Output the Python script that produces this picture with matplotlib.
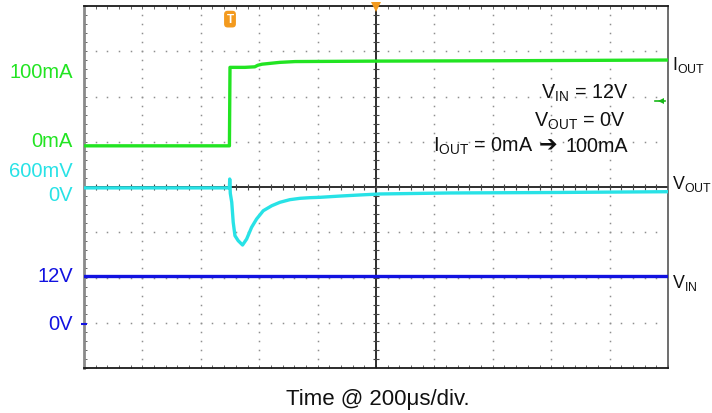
import numpy as np
import matplotlib
matplotlib.use('Agg')
import matplotlib.pyplot as plt
from matplotlib.ticker import MultipleLocator

plt.rcParams['font.family'] = ['Liberation Sans', 'DejaVu Sans']
plt.rcParams['mathtext.fontset'] = 'custom'
plt.rcParams['mathtext.rm'] = 'Liberation Sans'
plt.rcParams['mathtext.it'] = 'Liberation Sans'

# ---------------- data (read from the scope capture) ----------------
time_per_div_us = 200
n_hdiv = 10
n_vdiv = 8

iout_t_us = [-1000, -502, -500, -449, -415, -405, -390, -330, -277, 0, 425, 1000]
iout_mA = [0, 0, 86.7, 86.7, 87.3, 89.0, 90.2, 92.2, 93.1, 93.6, 94.0, 94.8]

vout_t_us = [-1000, -502, -501, -499, -494, -489, -483, -472, -457, -443, -426,
             -409, -386, -357, -329, -295, -260, -226, -192, -123, -55, 14,
             253, 596, 1000]
vout_mV = [0, 0, 98, -60, -159, -380, -528, -583, -631, -565, -435,
           -344, -252, -197, -159, -130, -115, -108, -104, -90, -78, -67,
           -56, -51, -42]

vin_t_us = [-1000, 1000]
vin_V = [12, 12]

trigger_time_us = -500
trigger_level_mA = 50

# channel settings (scale per division, zero position in divisions)
IOUT_SCALE, IOUT_POS = 50.0, 0.91
VOUT_SCALE, VOUT_POS = 500.0, -0.02
VIN_SCALE, VIN_POS = 11.5, -3.02

GREEN = '#22e422'
CYAN = '#28e2e6'
BLUE = '#1212e0'
ORANGE = '#f39a1e'

W, H = 712, 414
fig = plt.figure(figsize=(W / 100, H / 100), dpi=100)
L, R, T, B = 84, 668, 7, 369
ax = fig.add_axes([L / W, 1 - B / H, (R - L) / W, (B - T) / H])
half_t = time_per_div_us * n_hdiv / 2
ax.set_xlim(-half_t, half_t)
ax.set_ylim(-n_vdiv / 2, n_vdiv / 2)

# dotted graticule
sub_t = time_per_div_us / 5
dot_x, dot_y = [], []
for k in range(1, n_hdiv):
    xk = -half_t + k * time_per_div_us
    if abs(xk) < 1e-9:
        continue
    for j in range(1, n_vdiv * 5):
        dot_x.append(xk)
        dot_y.append(-n_vdiv / 2 + 0.2 * j)
for k in range(1, n_vdiv):
    yk = -n_vdiv / 2 + k
    if abs(yk) < 1e-9:
        continue
    for j in range(1, n_hdiv * 5):
        dot_x.append(-half_t + j * sub_t)
        dot_y.append(yk)
ax.plot(dot_x, dot_y, ls='none', marker='s', ms=1.1, mew=0, color='#8f8f8f', zorder=1)

# centre cross with sub-division ticks
ax.axvline(0, color='#1e1e1e', lw=1.3, zorder=2)
ax.axhline(0, color='#1e1e1e', lw=1.3, zorder=2)
cy = [-n_vdiv / 2 + 0.2 * j for j in range(1, n_vdiv * 5)]
ax.plot([0] * len(cy), cy, ls='none', marker='_', ms=4.5, mew=0.8, color='#444444', zorder=2)
cx = [-half_t + j * sub_t for j in range(1, n_hdiv * 5)]
ax.plot(cx, [0] * len(cx), ls='none', marker='|', ms=4.5, mew=0.8, color='#444444', zorder=2)

# border ticks
ax.xaxis.set_major_locator(MultipleLocator(time_per_div_us))
ax.xaxis.set_minor_locator(MultipleLocator(sub_t))
ax.yaxis.set_major_locator(MultipleLocator(1))
ax.yaxis.set_minor_locator(MultipleLocator(0.2))
ax.tick_params(which='both', direction='in', top=True, right=True, bottom=True, left=True,
               labelbottom=False, labelleft=False, length=2.4, width=0.7, color='#666666')
for s in ['top', 'bottom']:
    ax.spines[s].set_color('#1a1a1a')
    ax.spines[s].set_linewidth(1.3)
ax.spines['left'].set_color('#8a8a8a')
ax.spines['left'].set_linewidth(2.0)
ax.spines['right'].set_color('#555555')
ax.spines['right'].set_linewidth(1.2)

# channel axes
def channel_axes(scale, pos):
    a = ax.twinx()
    a.set_ylim((-n_vdiv / 2 - pos) * scale, (n_vdiv / 2 - pos) * scale)
    a.axis('off')
    return a

ax_i = channel_axes(IOUT_SCALE, IOUT_POS)
ax_vo = channel_axes(VOUT_SCALE, VOUT_POS)
ax_vi = channel_axes(VIN_SCALE, VIN_POS)

ax_vi.plot(vin_t_us, vin_V, color=BLUE, lw=2.4, solid_joinstyle='round', zorder=3)
ax_vo.plot(vout_t_us, vout_mV, color=CYAN, lw=2.4, solid_joinstyle='round', zorder=3)
ax_i.plot(iout_t_us, iout_mA, color=GREEN, lw=2.4, solid_joinstyle='round', zorder=3)

# trigger level marker (green arrow at right) and ground marker of VIN
ax_i.plot([half_t * 0.975], [trigger_level_mA], marker='<', ms=4.5, color='#19b819',
          mew=0, clip_on=False, zorder=4)
ax_i.plot([half_t * 0.955, half_t * 0.99], [trigger_level_mA] * 2, color='#19b819', lw=1.2,
          clip_on=False, zorder=4)
ax_vi.plot([-half_t], [0], marker='_', ms=4, mew=1.5, color=BLUE, clip_on=False, zorder=4)

# trigger position markers
ax.plot([0], [n_vdiv / 2 - 0.03], marker='v', ms=6.5, color=ORANGE, mew=0, clip_on=False, zorder=5)
ax.text(trigger_time_us, 3.71, 'T', color='white', fontsize=8.5, fontweight='bold',
        ha='center', va='center', zorder=5,
        bbox=dict(boxstyle='round,pad=0.2,rounding_size=0.3', fc=ORANGE, ec='none'))

def fp(x, y):
    return x / W, 1 - y / H

# left scale labels
left_labels = [('100mA', 78, GREEN), ('0mA', 146.7, GREEN), ('600mV', 177, CYAN),
               ('0V', 200.7, CYAN), ('12V', 281.7, BLUE), ('0V', 330, BLUE)]
for txt, yb, col in left_labels:
    fig.text(*fp(73, yb), txt, color=col, fontsize=14.5, ha='right', va='baseline')

# right channel names
right_labels = [(r'$\mathregular{I_{OUT}}$', 70), (r'$\mathregular{V_{OUT}}$', 189.5),
                (r'$\mathregular{V_{IN}}$', 288.3)]
for txt, yb in right_labels:
    fig.text(*fp(672, yb), txt, color='#111111', fontsize=12.8, ha='left', va='baseline')

# annotation
fs_ann = 14.2
fig.text(*fp(628, 98.3), r'$\mathregular{V_{IN}}$ = 12V', fontsize=fs_ann, ha='right',
         va='baseline', color='#111111')
fig.text(*fp(626, 126.7), r'$\mathregular{V_{OUT}}$ = 0V', fontsize=fs_ann, ha='right',
         va='baseline', color='#111111')
fig.text(*fp(628, 151.7), '100mA', fontsize=fs_ann, ha='right', va='baseline', color='#111111')
fig.text(*fp(548, 151.0), '\u2794', fontsize=16, ha='center', va='baseline',
         color='#111111', family='DejaVu Sans', fontweight='bold')
fig.text(*fp(533, 151.7), r'$\mathregular{I_{OUT}}$ = 0mA', fontsize=fs_ann, ha='right',
         va='baseline', color='#111111')

# x caption
fig.text(*fp(378, 405), 'Time @ 200\u03bcs/div.', fontsize=16, ha='center', va='baseline',
         color='#111111')

fig.savefig('out.png', dpi=100)
